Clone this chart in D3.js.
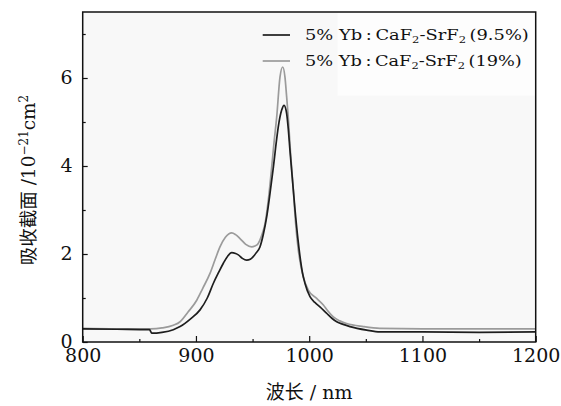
<!DOCTYPE html>
<html>
<head>
<meta charset="utf-8">
<script src="https://cdn.jsdelivr.net/npm/d3@7"></script>
<style>
  html, body { margin: 0; padding: 0; background: #fff; }
  svg { display: block; }
  text { font-family: "DejaVu Serif", "Liberation Serif", serif; fill: #111; }
  .cjk { font-family: "Noto Sans CJK SC", sans-serif; }
</style>
</head>
<body>
<svg id="chart" width="561" height="406"></svg>
<script>
// Absorption cross-section spectra, 5% Yb:CaF2-SrF2
const wl95 = [800, 830, 859, 861, 870, 880, 886, 895, 903.6, 910, 915.3, 920, 924.2, 928, 931.6, 935, 937.4, 941, 944.8, 948, 950.6, 953, 956.5, 959.5, 962.5, 965.5, 968.4, 970.5, 972.7, 975.7, 977.8, 980.1, 981.5, 983, 985, 987.5, 990, 991.9, 994, 996.3, 1000.7, 1005, 1009.5, 1015.5, 1020, 1024.3, 1030, 1036, 1050.8, 1062.5, 1100, 1150, 1200];
const abs95 = [0.30, 0.29, 0.28, 0.20, 0.22, 0.28, 0.35, 0.52, 0.73, 1.00, 1.33, 1.58, 1.79, 1.95, 2.03, 2.01, 1.98, 1.90, 1.86, 1.88, 1.94, 2.02, 2.16, 2.45, 2.85, 3.40, 3.98, 4.45, 4.89, 5.27, 5.38, 5.19, 4.85, 4.36, 3.75, 3.00, 2.35, 1.94, 1.58, 1.33, 1.03, 0.90, 0.80, 0.65, 0.54, 0.46, 0.40, 0.35, 0.27, 0.23, 0.23, 0.22, 0.23];

const wl19 = [800, 830, 860, 870, 880, 886, 893, 900.7, 906, 912.4, 917, 921.2, 926, 931.6, 935, 938.9, 944, 949.2, 952, 955, 958, 961, 964, 966.9, 969, 971.3, 974.2, 976.6, 978.6, 980, 981.5, 983.5, 986, 988, 990.4, 992.5, 994.8, 999.2, 1006.6, 1012.5, 1016, 1021.3, 1027, 1033.1, 1047.8, 1062.5, 1100, 1150, 1200];
const abs19 = [0.31, 0.30, 0.30, 0.32, 0.38, 0.46, 0.68, 0.95, 1.22, 1.56, 1.88, 2.16, 2.38, 2.48, 2.44, 2.35, 2.22, 2.16, 2.18, 2.24, 2.42, 2.69, 3.25, 3.98, 4.55, 5.11, 6.02, 6.25, 6.02, 5.60, 5.11, 4.30, 3.45, 2.70, 2.09, 1.75, 1.48, 1.18, 0.99, 0.84, 0.72, 0.57, 0.48, 0.42, 0.35, 0.31, 0.30, 0.30, 0.30];

const xTicks = [800, 900, 1000, 1100, 1200];
const xMinor = [850, 950, 1050, 1150];
const yTicks = [0, 2, 4, 6];
const yMinor = [1, 3, 5, 7];

const seriesNames = ["(9.5%)", "(19%)"];
const seriesColors = ["#1e1e1e", "#9b9b9b"];

const svg = d3.select("#chart");
const plotL = 82.7, plotR = 535.7, plotT = 12, plotB = 342;

const x = d3.scaleLinear().domain([800, 1200]).range([plotL, plotR]);
const y = d3.scaleLinear().domain([0, 7.5]).range([plotB, plotT]);

// plot area background
svg.append("rect")
  .attr("x", plotL).attr("y", plotT)
  .attr("width", plotR - plotL).attr("height", plotB - plotT)
  .attr("fill", "#f8f8f8");
svg.append("rect")
  .attr("x", x(1025)).attr("y", plotT)
  .attr("width", plotR - x(1025)).attr("height", y(5.6) - plotT)
  .attr("fill", "#fdfdfd");

// spectra
const line = d3.line().curve(d3.curveMonotoneX);
const series = [
  { wl: wl19, v: abs19, color: seriesColors[1] },
  { wl: wl95, v: abs95, color: seriesColors[0] }
];
series.forEach(s => {
  svg.append("path")
    .attr("d", line(s.wl.map((w, i) => [x(w), y(s.v[i])])))
    .attr("fill", "none")
    .attr("stroke", s.color)
    .attr("stroke-width", 1.7)
    .attr("stroke-linejoin", "round");
});

// axes with inward ticks
const xAxis = svg.append("g").attr("transform", `translate(0,${plotB})`)
  .call(d3.axisBottom(x).tickValues(xTicks).tickSize(-6).tickPadding(7).tickFormat(d3.format("d")));
svg.append("g").attr("transform", `translate(0,${plotB})`)
  .call(d3.axisBottom(x).tickValues(xMinor).tickSize(-3).tickFormat(""));
const yAxis = svg.append("g").attr("transform", `translate(${plotL},0)`)
  .call(d3.axisLeft(y).tickValues(yTicks).tickSize(-5).tickPadding(10).tickFormat(d3.format("d")));
svg.append("g").attr("transform", `translate(${plotL},0)`)
  .call(d3.axisLeft(y).tickValues(yMinor).tickSize(-3).tickFormat(""));

svg.selectAll(".domain").remove();
svg.selectAll(".tick line").attr("stroke", "#111").attr("stroke-width", 1.2);
svg.selectAll(".tick text")
  .style("font-family", "'DejaVu Serif', serif")
  .style("font-size", "19px")
  .attr("fill", "#111");
xAxis.selectAll(".tick text").attr("dy", "0.71em");
yAxis.selectAll(".tick text").attr("dy", "0.28em");

// frame
svg.append("rect")
  .attr("x", plotL).attr("y", plotT)
  .attr("width", plotR - plotL).attr("height", plotB - plotT)
  .attr("fill", "none").attr("stroke", "#111").attr("stroke-width", 1.5);

// axis titles
const xt = svg.append("text")
  .attr("x", (plotL + plotR) / 2).attr("y", 399)
  .attr("text-anchor", "middle")
  .style("font-size", "19px");
xt.append("tspan").attr("class", "cjk").text("波长");
xt.append("tspan").text(" / nm");

const yt = svg.append("text")
  .attr("transform", `translate(35,${(plotT + plotB) / 2 + 3}) rotate(-90)`)
  .attr("text-anchor", "middle")
  .style("font-size", "18.5px");
yt.append("tspan").attr("class", "cjk").text("吸收截面");
yt.append("tspan").text(" /10");
yt.append("tspan").attr("dy", -7).style("font-size", "12px").text("−21");
yt.append("tspan").attr("dy", 7).text("cm");
yt.append("tspan").attr("dy", -7).style("font-size", "12px").text("2");

// legend: entries are widened horizontally to fill the legend column
const legendY = [35, 61];
const legendX = 305;
seriesNames.forEach((name, i) => {
  svg.append("line")
    .attr("x1", 262.7).attr("x2", 290)
    .attr("y1", legendY[i]).attr("y2", legendY[i])
    .attr("stroke", seriesColors[i]).attr("stroke-width", 1.7);
  const g = svg.append("g");
  const t = g.append("text")
    .attr("x", 0).attr("y", 0)
    .style("font-size", "15.5px");
  t.append("tspan").text("5% Yb\u2009:\u2009CaF");
  t.append("tspan").attr("dy", 3).style("font-size", "10px").text("2");
  t.append("tspan").attr("dy", -3).text("-SrF");
  t.append("tspan").attr("dy", 3).style("font-size", "10px").text("2");
  t.append("tspan").attr("dy", -3).text("\u2009" + name);
  const target = i === 0 ? 224 : 217;
  const natural = t.node().getComputedTextLength();
  const sx = natural > 0 ? target / natural : 1;
  g.attr("transform", `translate(${legendX},${legendY[i] + 5}) scale(${sx},1)`);
});
</script>
</body>
</html>
